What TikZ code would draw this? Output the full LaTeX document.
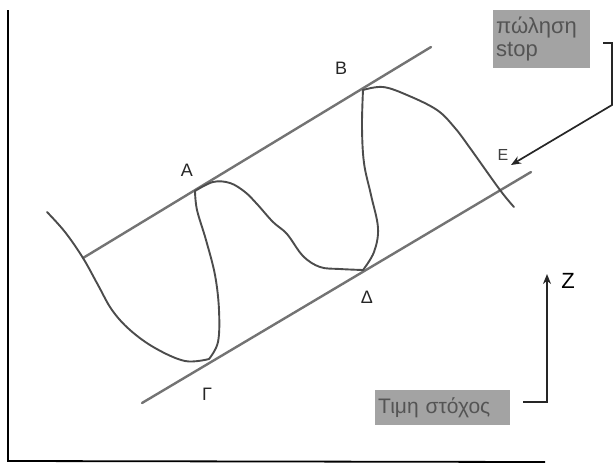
\documentclass[tikz,border=0pt]{standalone}
\usepackage{fontspec}
\setmainfont{Liberation Sans}
\usetikzlibrary{arrows.meta}
\definecolor{linegray}{gray}{0.45}
\definecolor{curvegray}{gray}{0.30}
\definecolor{boxgray}{gray}{0.64}
\definecolor{boxtext}{gray}{0.33}
\tikzset{
  parline/.style={draw=linegray, line width=2.4pt, line cap=round},
  wave/.style={draw=curvegray, line width=1.9pt, line cap=round, line join=round},
  ptlabel/.style={font=\fontsize{18}{18}\selectfont, text=black!85, inner sep=0pt},
  tagbox/.style={fill=boxgray, text=boxtext, align=left, inner xsep=3pt, inner ysep=2pt},
  frameline/.style={draw=black, line width=1.8pt},
  conn/.style={draw=black!85, line width=1.7pt}
}
\begin{document}
\begin{tikzpicture}[x=1pt, y=-1pt]
\useasboundingbox (0,0) rectangle (613,467);
% frame
\coordinate (ftop) at (8,10);
\coordinate (fcorner) at (8,461);
\coordinate (fright) at (545,462);
\draw[frameline] (ftop) -- (fcorner) -- (fright);
% parallel lines
\coordinate (U1) at (83,258);
\coordinate (U2) at (431,47);
\coordinate (L1) at (142,403);
\coordinate (L2) at (531,172);
\draw[parline] (U1) -- (U2);
\draw[parline] (L1) -- (L2);
% wave
\draw[wave] plot[smooth, tension=0.6] coordinates {(47,212) (65,232) (83,258) (98,285) (112,310) (130,330) (155,348) (185,361) (209,359)};
\draw[wave] plot[smooth, tension=0.6] coordinates {(209,359) (218,342) (219,310) (215,275) (206,240) (197,210) (195,191)};
\draw[wave] plot[smooth, tension=0.6] coordinates {(195,191) (213,182) (230,183) (245,192) (257,204) (273,222) (287,234) (303,256) (320,267) (340,269) (363,270)};
\draw[wave] plot[smooth, tension=0.6] coordinates {(363,270) (374,252) (378,228) (371,195) (364,163) (362,127) (363,90)};
\draw[wave] plot[smooth, tension=0.6] coordinates {(363,90) (383,87) (407,95) (437,110) (455,128) (470,148) (500,190) (514,207)};
% point labels
\node[ptlabel] (A) at (187,170) {A};
\node[ptlabel] (B) at (341,68) {B};
\node[ptlabel] (G) at (207,394) {Γ};
\node[ptlabel] (D) at (367,297) {Δ};
\node[ptlabel, font=\fontsize{16}{16}\selectfont, text=black!75] (E) at (503,155) {E};
% stop box
\node[tagbox, anchor=north west, text width=91pt, minimum height=58pt, font=\fontsize{22}{23}\selectfont] (stop) at (493,10) {πώληση\\stop};
\coordinate (s1) at (603,43);
\coordinate (s2) at (612,43);
\coordinate (s3) at (612,105);
\coordinate (etip) at (511,165);
\draw[conn, -{Stealth[length=10pt,width=8pt]}] (s1) -- (s2) -- (s3) -- (etip);
% target box
\node[tagbox, anchor=north west, text width=129pt, minimum height=35pt, font=\fontsize{21}{22}\selectfont] (target) at (375,390) {Τιμη στόχος};
\coordinate (z1) at (523,402);
\coordinate (z2) at (547,402);
\coordinate (z3) at (547,274);
\draw[conn, -{Stealth[length=10pt,width=8pt]}] (z1) -- (z2) -- (z3);
\node[font=\fontsize{22}{22}\selectfont, inner sep=0pt] (Z) at (568,281) {Z};
\end{tikzpicture}
\end{document}
